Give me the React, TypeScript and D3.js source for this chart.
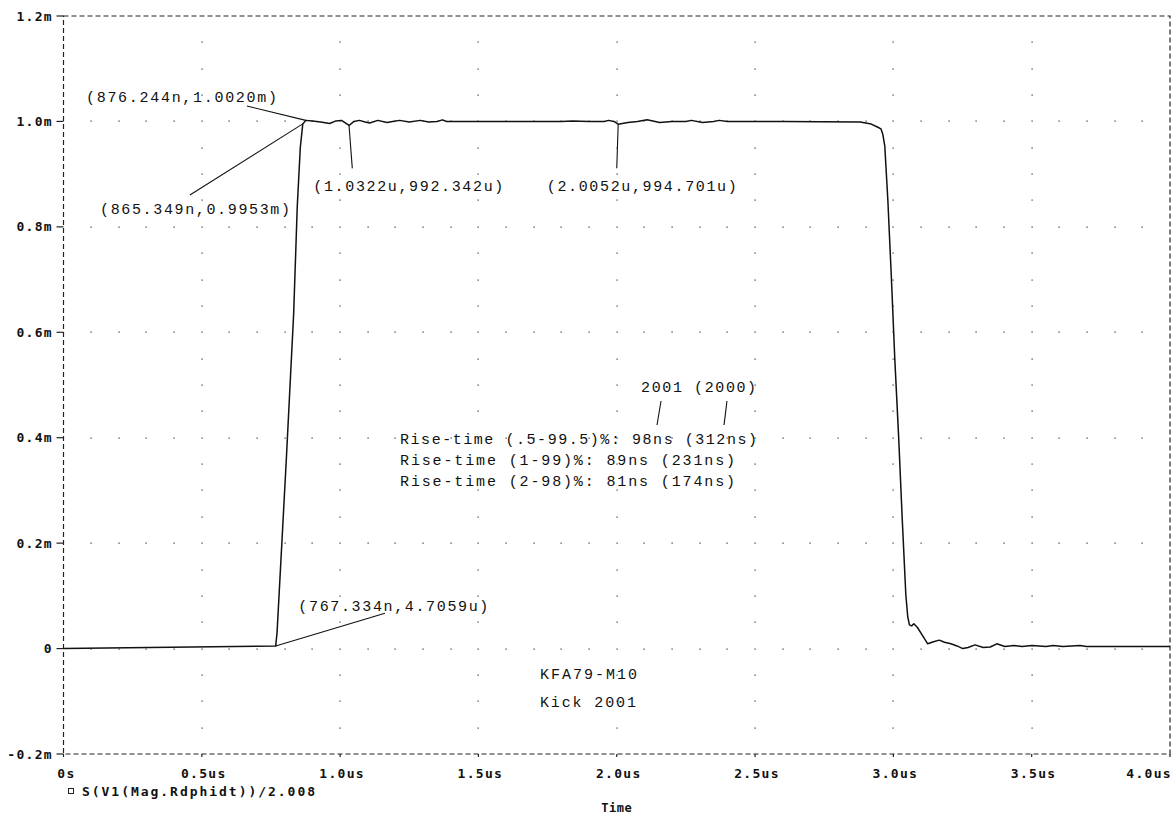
import React from "react";
import * as d3 from "d3";

// ---------- data ----------
const timeTicks = [0, 0.5, 1.0, 1.5, 2.0, 2.5, 3.0, 3.5, 4.0];
const timeTickLabels = ["0s", "0.5us", "1.0us", "1.5us", "2.0us", "2.5us", "3.0us", "3.5us", "4.0us"];
const valueTicks = [-0.2, 0, 0.2, 0.4, 0.6, 0.8, 1.0, 1.2];
const valueTickLabels = ["-0.2m", "0", "0.2m", "0.4m", "0.6m", "0.8m", "1.0m", "1.2m"];

// waveform: time in us, value in m
const waveT = [
  0, 0.767, 0.772, 0.806, 0.832, 0.845, 0.856, 0.865, 0.876,
  0.9, 0.93, 0.962, 0.985, 1.005, 1.0322, 1.05, 1.07, 1.09, 1.107, 1.136, 1.17, 1.19, 1.215, 1.25,
  1.29, 1.32, 1.35, 1.37, 1.385, 1.5, 1.8, 1.84, 1.9, 1.955, 1.97, 1.99, 2.0052, 2.04, 2.075,
  2.11, 2.155, 2.2, 2.25, 2.27, 2.31, 2.35, 2.37, 2.4, 2.6, 2.88, 2.92, 2.944,
  2.955, 2.962, 2.969, 2.98, 2.993, 3.005, 3.019, 3.032, 3.045, 3.052, 3.058, 3.066, 3.074, 3.087,
  3.105, 3.124, 3.145, 3.166, 3.185, 3.208, 3.23, 3.251, 3.27, 3.295, 3.325, 3.35, 3.374,
  3.403, 3.436, 3.465, 3.501, 3.552, 3.577, 3.613, 3.675, 3.698, 4.0,
];
const waveV = [
  0, 0.0047, 0.03, 0.364, 0.635, 0.838, 0.95, 0.9953, 1.002,
  1.001, 0.999, 0.996, 1.001, 1.002, 0.9923, 1.0, 1.002, 0.999, 0.997, 1.002, 0.998, 1.0, 1.002, 0.999,
  1.002, 0.999, 1.0, 1.003, 1.0, 1.0, 1.0, 1.001, 1.0, 1.0, 1.002, 1.0, 0.9947, 0.998, 1.0,
  1.003, 0.998, 1.0, 1.0, 1.002, 0.998, 1.0, 1.002, 1.0, 1.0, 0.999, 0.995, 0.989,
  0.986, 0.975, 0.953, 0.851, 0.701, 0.551, 0.402, 0.246, 0.102, 0.06, 0.045, 0.043, 0.047, 0.04,
  0.025, 0.009, 0.013, 0.016, 0.012, 0.009, 0.005, 0.0, 0.002, 0.007, 0.002, 0.003, 0.009,
  0.004, 0.006, 0.004, 0.006, 0.004, 0.006, 0.004, 0.006, 0.004, 0.004,
];

const legendLabel = "S(V1(Mag.Rdphidt))/2.008";
const xAxisTitle = "Time";

// cursor annotations: marked point (pt, pv) in data units
const cursorLabels = [
  "(876.244n,1.0020m)",
  "(865.349n,0.9953m)",
  "(1.0322u,992.342u)",
  "(2.0052u,994.701u)",
  "(767.334n,4.7059u)",
];
const cursorPointT = [0.876, 0.865, 1.0322, 2.0052, 0.767];
const cursorPointV = [1.002, 0.9953, 0.9923, 0.9947, 0.0047];

const noteLines = [
  "2001 (2000)",
  "Rise-time (.5-99.5)%: 98ns (312ns)",
  "Rise-time (1-99)%: 89ns (231ns)",
  "Rise-time (2-98)%: 81ns (174ns)",
  "KFA79-M10",
  "Kick 2001",
];

// ---------- layout ----------
const W = 1176;
const H = 817;
const X0 = 63.5;
const X1 = 1170;
const Y0 = 754;
const Y1 = 16;

// text positions for cursor labels (data coords: text start t, baseline v, leader start t,v, width)
const cursorLayout = [
  { tt: 0.0813, tv: 1.0369, lt: 0.663, lv: 1.0293, w: 191 },
  { tt: 0.132, tv: 0.8248, lt: 0.457, lv: 0.8604, w: 190 },
  { tt: 0.903, tv: 0.8671, lt: 1.044, lv: 0.911, w: 190 },
  { tt: 1.747, tv: 0.8671, lt: 2.0, lv: 0.911, w: 190 },
  { tt: 0.849, tv: 0.0722, lt: 1.162, lv: 0.0669, w: 190 },
];
const noteLayout = [
  { tt: 2.088, tv: 0.4867, w: 115 },
  { tt: 1.2165, tv: 0.389, tv2: 0, w: 357 },
  { tt: 1.2165, tv: 0.349, w: 335 },
  { tt: 1.2165, tv: 0.308, w: 335 },
  { tt: 1.7225, tv: -0.0568, w: 97 },
  { tt: 1.7225, tv: -0.1099, w: 96 },
];
const noteLeaders = [
  [2.16, 0.4697, 2.1455, 0.4241],
  [2.3985, 0.4697, 2.3877, 0.4241],
];

export default function App() {
  const x = d3.scaleLinear().domain([0, 4]).range([X0, X1]);
  const y = d3.scaleLinear().domain([-0.2, 1.2]).range([Y0, Y1]);

  const pts: [number, number][] = waveT.map((t, i) => [t, waveV[i]]);
  const line = d3
    .line<[number, number]>()
    .x((d) => x(d[0]))
    .y((d) => y(d[1]));

  // grid dots
  const dots: [number, number][] = [];
  valueTicks.forEach((v) => {
    if (v <= -0.2 || v >= 1.2) return;
    for (let k = 1; k < 40; k++) dots.push([x(k * 0.1), y(v)]);
  });
  timeTicks.forEach((t) => {
    if (t <= 0 || t >= 4) return;
    for (let k = -3; k <= 23; k++) {
      const v = k * 0.05;
      if (Math.abs(Math.round(v / 0.2) * 0.2 - v) < 1e-6) continue;
      dots.push([x(t), y(v)]);
    }
  });

  const axisFont = "'DejaVu Sans Mono', monospace";
  const annFont = "'Liberation Mono', 'DejaVu Sans Mono', monospace";

  return (
    <div style={{ position: "absolute", left: 0, top: 0 }}>
      <svg width={W} height={H} style={{ display: "block", background: "#fff" }}>
        <rect x={0} y={0} width={W} height={H} fill="#fff" />
        {/* grid dots */}
        <g fill="#333">
          {dots.map((d, i) => (
            <rect key={i} x={Math.round(d[0]) - 0.5} y={Math.round(d[1]) - 0.5} width={1.2} height={1.2} />
          ))}
        </g>
        {/* border */}
        <rect
          x={X0}
          y={Y1}
          width={X1 - X0}
          height={Y0 - Y1}
          fill="none"
          stroke="#222"
          strokeWidth={1.2}
          strokeDasharray="5,3"
        />
        {/* y ticks & labels */}
        {valueTicks.map((v, i) => (
          <g key={"yt" + i}>
            <line x1={X0 - 7} x2={X0} y1={y(v)} y2={y(v)} stroke="#222" strokeWidth={1.2} />
            <text
              x={53}
              y={y(v) + 4.5}
              textAnchor="end"
              fontFamily={axisFont}
              fontWeight="bold"
              fontSize={13}
              letterSpacing={1.3}
              fill="#111"
            >
              {valueTickLabels[i]}
            </text>
          </g>
        ))}
        {/* x ticks & labels */}
        {timeTicks.map((t, i) => (
          <g key={"xt" + i}>
            <line x1={x(t)} x2={x(t)} y1={Y0} y2={Y0 + 3} stroke="#222" strokeWidth={1.2} />
            <text
              x={i === timeTicks.length - 1 ? X1 + 2 : x(t) + (i === 0 ? 3 : 2)}
              y={778}
              textAnchor={i === timeTicks.length - 1 ? "end" : "middle"}
              fontFamily={axisFont}
              fontWeight="bold"
              fontSize={13}
              letterSpacing={1.3}
              fill="#111"
            >
              {timeTickLabels[i]}
            </text>
          </g>
        ))}
        {/* legend */}
        <rect x={68.5} y={788.5} width={5} height={5} fill="none" stroke="#222" strokeWidth={1} />
        <text
          x={82}
          y={796}
          fontFamily={axisFont}
          fontWeight="bold"
          fontSize={13}
          textLength={233}
          lengthAdjust="spacing"
          fill="#111"
        >
          {legendLabel}
        </text>
        <text
          x={x(2.0)}
          y={812}
          textAnchor="middle"
          fontFamily={axisFont}
          fontWeight="bold"
          fontSize={12}
          letterSpacing={0.5}
          fill="#111"
        >
          {xAxisTitle}
        </text>
        {/* waveform */}
        <path d={line(pts) || ""} fill="none" stroke="#111" strokeWidth={1.5} strokeLinejoin="round" />
        {/* cursor annotations */}
        {cursorLabels.map((lab, i) => {
          const L = cursorLayout[i];
          return (
            <g key={"c" + i}>
              <line
                x1={x(L.lt)}
                y1={y(L.lv)}
                x2={x(cursorPointT[i])}
                y2={y(cursorPointV[i])}
                stroke="#111"
                strokeWidth={1.1}
              />
              <text
                x={x(L.tt)}
                y={y(L.tv)}
                fontFamily={annFont}
                fontSize={15}
                textLength={L.w}
                lengthAdjust="spacing"
                fill="#111"
              >
                {lab}
              </text>
            </g>
          );
        })}
        {noteLines.map((lab, i) => {
          const L = noteLayout[i];
          return (
            <text
              key={"n" + i}
              x={x(L.tt)}
              y={y(L.tv)}
              fontFamily={annFont}
              fontSize={15}
              textLength={L.w}
              lengthAdjust="spacing"
              fill="#111"
            >
              {lab}
            </text>
          );
        })}
        {noteLeaders.map((l, i) => (
          <line key={"nl" + i} x1={x(l[0])} y1={y(l[1])} x2={x(l[2])} y2={y(l[3])} stroke="#111" strokeWidth={1.1} />
        ))}
      </svg>
    </div>
  );
}
